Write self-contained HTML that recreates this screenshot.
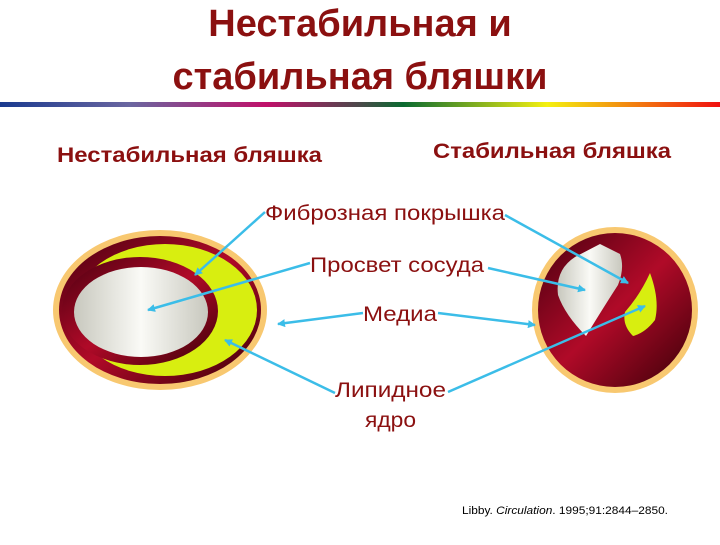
<!DOCTYPE html>
<html><head><meta charset="utf-8"><style>
body{margin:0;width:720px;height:540px;background:#fff;overflow:hidden;font-family:"Liberation Sans",sans-serif}
</style></head><body>
<svg width="720" height="540" viewBox="0 0 720 540" xmlns="http://www.w3.org/2000/svg">
<defs>
<linearGradient id="bar" x1="0" x2="1">
<stop offset="0" stop-color="#1a3a8f"/><stop offset="0.18" stop-color="#6a66a0"/><stop offset="0.37" stop-color="#c0106a"/><stop offset="0.5" stop-color="#4a4a4a"/><stop offset="0.56" stop-color="#0a6a30"/><stop offset="0.76" stop-color="#f4f010"/><stop offset="1" stop-color="#f01010"/></linearGradient>
<linearGradient id="white" x1="0" x2="1">
<stop offset="0" stop-color="#c8c8be"/><stop offset="0.5" stop-color="#fafaf6"/><stop offset="1" stop-color="#c8c8be"/></linearGradient>
<linearGradient id="red" x1="0" y1="0" x2="1" y2="1">
<stop offset="0" stop-color="#4a0010"/><stop offset="0.5" stop-color="#b00a28"/><stop offset="1" stop-color="#3a0008"/></linearGradient>
<marker id="ah" markerWidth="8" markerHeight="8" refX="7" refY="4" orient="auto" markerUnits="userSpaceOnUse" viewBox="0 0 8 8"><path d="M0,0 L8,4 L0,8 z" fill="#3bbde8"/></marker>
</defs>
<text x="360" y="36" text-anchor="middle" font-size="38" font-weight="bold" fill="#8b1010">Нестабильная и</text>
<text x="360" y="89" text-anchor="middle" font-size="38" font-weight="bold" fill="#8b1010">стабильная бляшки</text>
<rect x="0" y="102" width="720" height="5" fill="url(#bar)"/>
<text x="57" y="162" font-size="21" font-weight="bold" fill="#8b1010" textLength="265" lengthAdjust="spacingAndGlyphs">Нестабильная бляшка</text>
<text x="433" y="158" font-size="21" font-weight="bold" fill="#8b1010" textLength="238" lengthAdjust="spacingAndGlyphs">Стабильная бляшка</text>
<ellipse cx="160" cy="310" rx="107" ry="80" fill="#f8c870"/>
<ellipse cx="160" cy="310" rx="101" ry="74" fill="url(#red)"/>
<ellipse cx="165" cy="310" rx="92" ry="66" fill="#d8ee10"/>
<ellipse cx="140" cy="311" rx="78" ry="54" fill="url(#red)"/>
<ellipse cx="141" cy="312" rx="67" ry="45" fill="url(#white)"/>
<circle cx="615" cy="310" r="83" fill="#f8c870"/>
<circle cx="615" cy="310" r="77" fill="url(#red)"/>
<path d="M600,244 L620,254 Q625,268 618,285 Q605,305 586,336 Q565,315 558,295 Q555,270 575,257 Z" fill="url(#white)"/>
<path d="M650,273 Q660,300 655,320 Q645,333 633,336 Q622,325 625,312 Q640,295 650,273 Z" fill="#d8ee10"/>
<g stroke="#3bbde8" stroke-width="2.5" marker-end="url(#ah)" fill="none">
<line x1="265" y1="212" x2="195" y2="275"/>
<line x1="505" y1="215" x2="628" y2="283"/>
<line x1="310" y1="263" x2="148" y2="310"/>
<line x1="488" y1="268" x2="585" y2="290"/>
<line x1="363" y1="313" x2="278" y2="324"/>
<line x1="438" y1="313" x2="535" y2="325"/>
<line x1="335" y1="393" x2="225" y2="340"/>
<line x1="448" y1="392" x2="645" y2="306"/>
</g>
<g font-size="21" fill="#8b1010">
<text x="265" y="220" textLength="240" lengthAdjust="spacingAndGlyphs">Фиброзная покрышка</text>
<text x="310" y="272" textLength="174" lengthAdjust="spacingAndGlyphs">Просвет сосуда</text>
<text x="363" y="321" textLength="74" lengthAdjust="spacingAndGlyphs">Медиа</text>
<text x="335" y="397" textLength="111" lengthAdjust="spacingAndGlyphs">Липидное</text>
<text x="365" y="427" textLength="51" lengthAdjust="spacingAndGlyphs">ядро</text>
</g>
<text x="462" y="514" font-size="11" fill="#000" textLength="206" lengthAdjust="spacingAndGlyphs">Libby. <tspan font-style="italic">Circulation</tspan>. 1995;91:2844–2850.</text>
</svg>
</body></html>
